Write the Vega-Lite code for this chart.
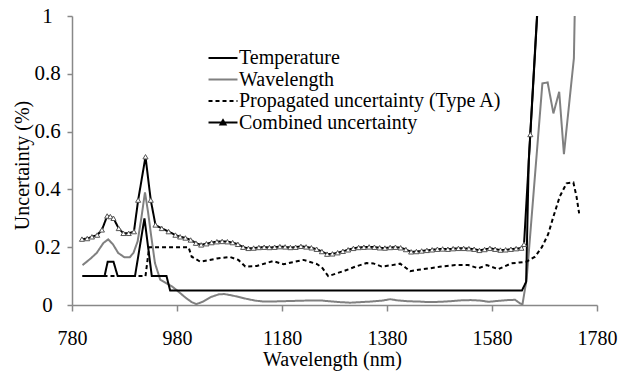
{
  "$schema": "https://vega.github.io/schema/vega-lite/v6.json",
  "width": 525,
  "height": 289,
  "autosize": "none",
  "padding": {"left": 72, "top": 16, "right": 21, "bottom": 68},
  "config": {
    "font": "serif",
    "view": {"stroke": null},
    "axis": {"grid": false, "domainColor": "#888888", "tickColor": "#888888", "domainWidth": 1.5, "tickWidth": 1.5, "labelColor": "#000000", "titleColor": "#000000", "labelFont": "serif", "titleFont": "serif", "titleFontWeight": "normal"},
    "legend": {"labelFont": "serif"}
  },
  "data": {
    "values": [
      {"series": "Wavelength", "wl": 800, "u": 0.138},
      {"series": "Wavelength", "wl": 815, "u": 0.16},
      {"series": "Wavelength", "wl": 827, "u": 0.18},
      {"series": "Wavelength", "wl": 840, "u": 0.215},
      {"series": "Wavelength", "wl": 849, "u": 0.227},
      {"series": "Wavelength", "wl": 858, "u": 0.21},
      {"series": "Wavelength", "wl": 868, "u": 0.18},
      {"series": "Wavelength", "wl": 880, "u": 0.165},
      {"series": "Wavelength", "wl": 890, "u": 0.165},
      {"series": "Wavelength", "wl": 897, "u": 0.18},
      {"series": "Wavelength", "wl": 905, "u": 0.22},
      {"series": "Wavelength", "wl": 912, "u": 0.3},
      {"series": "Wavelength", "wl": 919, "u": 0.39},
      {"series": "Wavelength", "wl": 925, "u": 0.32},
      {"series": "Wavelength", "wl": 930, "u": 0.25},
      {"series": "Wavelength", "wl": 938, "u": 0.145},
      {"series": "Wavelength", "wl": 948, "u": 0.088},
      {"series": "Wavelength", "wl": 960, "u": 0.075},
      {"series": "Wavelength", "wl": 970, "u": 0.065},
      {"series": "Wavelength", "wl": 979, "u": 0.052},
      {"series": "Wavelength", "wl": 990, "u": 0.035},
      {"series": "Wavelength", "wl": 998, "u": 0.023},
      {"series": "Wavelength", "wl": 1008, "u": 0.01},
      {"series": "Wavelength", "wl": 1017, "u": 0.003},
      {"series": "Wavelength", "wl": 1030, "u": 0.012},
      {"series": "Wavelength", "wl": 1045, "u": 0.028},
      {"series": "Wavelength", "wl": 1060, "u": 0.037},
      {"series": "Wavelength", "wl": 1070, "u": 0.038},
      {"series": "Wavelength", "wl": 1085, "u": 0.033},
      {"series": "Wavelength", "wl": 1100, "u": 0.027},
      {"series": "Wavelength", "wl": 1113, "u": 0.021},
      {"series": "Wavelength", "wl": 1130, "u": 0.015},
      {"series": "Wavelength", "wl": 1144, "u": 0.012},
      {"series": "Wavelength", "wl": 1160, "u": 0.012},
      {"series": "Wavelength", "wl": 1180, "u": 0.013},
      {"series": "Wavelength", "wl": 1200, "u": 0.014},
      {"series": "Wavelength", "wl": 1220, "u": 0.015},
      {"series": "Wavelength", "wl": 1240, "u": 0.016},
      {"series": "Wavelength", "wl": 1252, "u": 0.016},
      {"series": "Wavelength", "wl": 1270, "u": 0.013},
      {"series": "Wavelength", "wl": 1290, "u": 0.01},
      {"series": "Wavelength", "wl": 1310, "u": 0.008},
      {"series": "Wavelength", "wl": 1330, "u": 0.01},
      {"series": "Wavelength", "wl": 1350, "u": 0.012},
      {"series": "Wavelength", "wl": 1370, "u": 0.015},
      {"series": "Wavelength", "wl": 1386, "u": 0.02},
      {"series": "Wavelength", "wl": 1400, "u": 0.016},
      {"series": "Wavelength", "wl": 1420, "u": 0.013},
      {"series": "Wavelength", "wl": 1440, "u": 0.012},
      {"series": "Wavelength", "wl": 1460, "u": 0.01},
      {"series": "Wavelength", "wl": 1480, "u": 0.011},
      {"series": "Wavelength", "wl": 1500, "u": 0.013},
      {"series": "Wavelength", "wl": 1520, "u": 0.016},
      {"series": "Wavelength", "wl": 1540, "u": 0.017},
      {"series": "Wavelength", "wl": 1560, "u": 0.015},
      {"series": "Wavelength", "wl": 1573, "u": 0.011},
      {"series": "Wavelength", "wl": 1590, "u": 0.014},
      {"series": "Wavelength", "wl": 1610, "u": 0.017},
      {"series": "Wavelength", "wl": 1624, "u": 0.018},
      {"series": "Wavelength", "wl": 1633, "u": 0.006},
      {"series": "Wavelength", "wl": 1638, "u": 0.002},
      {"series": "Wavelength", "wl": 1646, "u": 0.09},
      {"series": "Wavelength", "wl": 1676, "u": 0.767},
      {"series": "Wavelength", "wl": 1686, "u": 0.77},
      {"series": "Wavelength", "wl": 1697, "u": 0.663},
      {"series": "Wavelength", "wl": 1708, "u": 0.738},
      {"series": "Wavelength", "wl": 1717, "u": 0.522},
      {"series": "Wavelength", "wl": 1736, "u": 0.854},
      {"series": "Wavelength", "wl": 1738, "u": 1.05},
      {"series": "Propagated uncertainty (Type A)", "wl": 800, "u": 0.1},
      {"series": "Propagated uncertainty (Type A)", "wl": 920, "u": 0.1},
      {"series": "Propagated uncertainty (Type A)", "wl": 927, "u": 0.2},
      {"series": "Propagated uncertainty (Type A)", "wl": 1002, "u": 0.2},
      {"series": "Propagated uncertainty (Type A)", "wl": 1008, "u": 0.167},
      {"series": "Propagated uncertainty (Type A)", "wl": 1024, "u": 0.15},
      {"series": "Propagated uncertainty (Type A)", "wl": 1040, "u": 0.155},
      {"series": "Propagated uncertainty (Type A)", "wl": 1056, "u": 0.161},
      {"series": "Propagated uncertainty (Type A)", "wl": 1081, "u": 0.166},
      {"series": "Propagated uncertainty (Type A)", "wl": 1097, "u": 0.156},
      {"series": "Propagated uncertainty (Type A)", "wl": 1110, "u": 0.133},
      {"series": "Propagated uncertainty (Type A)", "wl": 1132, "u": 0.135},
      {"series": "Propagated uncertainty (Type A)", "wl": 1150, "u": 0.145},
      {"series": "Propagated uncertainty (Type A)", "wl": 1163, "u": 0.152},
      {"series": "Propagated uncertainty (Type A)", "wl": 1183, "u": 0.141},
      {"series": "Propagated uncertainty (Type A)", "wl": 1200, "u": 0.148},
      {"series": "Propagated uncertainty (Type A)", "wl": 1221, "u": 0.156},
      {"series": "Propagated uncertainty (Type A)", "wl": 1246, "u": 0.142},
      {"series": "Propagated uncertainty (Type A)", "wl": 1256, "u": 0.13},
      {"series": "Propagated uncertainty (Type A)", "wl": 1262, "u": 0.115},
      {"series": "Propagated uncertainty (Type A)", "wl": 1268, "u": 0.1},
      {"series": "Propagated uncertainty (Type A)", "wl": 1285, "u": 0.11},
      {"series": "Propagated uncertainty (Type A)", "wl": 1303, "u": 0.121},
      {"series": "Propagated uncertainty (Type A)", "wl": 1320, "u": 0.133},
      {"series": "Propagated uncertainty (Type A)", "wl": 1341, "u": 0.145},
      {"series": "Propagated uncertainty (Type A)", "wl": 1354, "u": 0.144},
      {"series": "Propagated uncertainty (Type A)", "wl": 1370, "u": 0.133},
      {"series": "Propagated uncertainty (Type A)", "wl": 1390, "u": 0.138},
      {"series": "Propagated uncertainty (Type A)", "wl": 1405, "u": 0.143},
      {"series": "Propagated uncertainty (Type A)", "wl": 1415, "u": 0.13},
      {"series": "Propagated uncertainty (Type A)", "wl": 1424, "u": 0.117},
      {"series": "Propagated uncertainty (Type A)", "wl": 1440, "u": 0.122},
      {"series": "Propagated uncertainty (Type A)", "wl": 1462, "u": 0.127},
      {"series": "Propagated uncertainty (Type A)", "wl": 1480, "u": 0.132},
      {"series": "Propagated uncertainty (Type A)", "wl": 1494, "u": 0.135},
      {"series": "Propagated uncertainty (Type A)", "wl": 1510, "u": 0.138},
      {"series": "Propagated uncertainty (Type A)", "wl": 1535, "u": 0.138},
      {"series": "Propagated uncertainty (Type A)", "wl": 1554, "u": 0.127},
      {"series": "Propagated uncertainty (Type A)", "wl": 1570, "u": 0.138},
      {"series": "Propagated uncertainty (Type A)", "wl": 1592, "u": 0.124},
      {"series": "Propagated uncertainty (Type A)", "wl": 1617, "u": 0.144},
      {"series": "Propagated uncertainty (Type A)", "wl": 1632, "u": 0.147},
      {"series": "Propagated uncertainty (Type A)", "wl": 1646, "u": 0.15},
      {"series": "Propagated uncertainty (Type A)", "wl": 1662, "u": 0.167},
      {"series": "Propagated uncertainty (Type A)", "wl": 1675, "u": 0.2},
      {"series": "Propagated uncertainty (Type A)", "wl": 1687, "u": 0.245},
      {"series": "Propagated uncertainty (Type A)", "wl": 1697, "u": 0.306},
      {"series": "Propagated uncertainty (Type A)", "wl": 1709, "u": 0.375},
      {"series": "Propagated uncertainty (Type A)", "wl": 1722, "u": 0.421},
      {"series": "Propagated uncertainty (Type A)", "wl": 1735, "u": 0.424},
      {"series": "Propagated uncertainty (Type A)", "wl": 1741, "u": 0.375},
      {"series": "Propagated uncertainty (Type A)", "wl": 1746, "u": 0.317},
      {"series": "Temperature", "wl": 800, "u": 0.1},
      {"series": "Temperature", "wl": 842, "u": 0.1},
      {"series": "Temperature", "wl": 848, "u": 0.15},
      {"series": "Temperature", "wl": 859, "u": 0.15},
      {"series": "Temperature", "wl": 867, "u": 0.1},
      {"series": "Temperature", "wl": 900, "u": 0.1},
      {"series": "Temperature", "wl": 918, "u": 0.3},
      {"series": "Temperature", "wl": 932, "u": 0.1},
      {"series": "Temperature", "wl": 960, "u": 0.1},
      {"series": "Temperature", "wl": 967, "u": 0.05},
      {"series": "Temperature", "wl": 1637, "u": 0.05},
      {"series": "Temperature", "wl": 1645, "u": 0.08},
      {"series": "Temperature", "wl": 1650, "u": 0.5},
      {"series": "Temperature", "wl": 1666, "u": 1.01},
      {"series": "Temperature", "wl": 1675, "u": 1.3},
      {"series": "Combined uncertainty", "wl": 799, "u": 0.228},
      {"series": "Combined uncertainty", "wl": 809, "u": 0.23},
      {"series": "Combined uncertainty", "wl": 818, "u": 0.236},
      {"series": "Combined uncertainty", "wl": 828, "u": 0.242},
      {"series": "Combined uncertainty", "wl": 837, "u": 0.26},
      {"series": "Combined uncertainty", "wl": 847, "u": 0.308},
      {"series": "Combined uncertainty", "wl": 853, "u": 0.306},
      {"series": "Combined uncertainty", "wl": 859, "u": 0.3},
      {"series": "Combined uncertainty", "wl": 869, "u": 0.265},
      {"series": "Combined uncertainty", "wl": 878, "u": 0.248},
      {"series": "Combined uncertainty", "wl": 888, "u": 0.248},
      {"series": "Combined uncertainty", "wl": 898, "u": 0.254},
      {"series": "Combined uncertainty", "wl": 906, "u": 0.363},
      {"series": "Combined uncertainty", "wl": 920, "u": 0.513},
      {"series": "Combined uncertainty", "wl": 930, "u": 0.363},
      {"series": "Combined uncertainty", "wl": 939, "u": 0.277},
      {"series": "Combined uncertainty", "wl": 951, "u": 0.265},
      {"series": "Combined uncertainty", "wl": 964, "u": 0.254},
      {"series": "Combined uncertainty", "wl": 977, "u": 0.242},
      {"series": "Combined uncertainty", "wl": 986, "u": 0.236},
      {"series": "Combined uncertainty", "wl": 996, "u": 0.232},
      {"series": "Combined uncertainty", "wl": 1006, "u": 0.225},
      {"series": "Combined uncertainty", "wl": 1016, "u": 0.214},
      {"series": "Combined uncertainty", "wl": 1026, "u": 0.208},
      {"series": "Combined uncertainty", "wl": 1036, "u": 0.212},
      {"series": "Combined uncertainty", "wl": 1046, "u": 0.216},
      {"series": "Combined uncertainty", "wl": 1056, "u": 0.219},
      {"series": "Combined uncertainty", "wl": 1066, "u": 0.22},
      {"series": "Combined uncertainty", "wl": 1076, "u": 0.219},
      {"series": "Combined uncertainty", "wl": 1086, "u": 0.216},
      {"series": "Combined uncertainty", "wl": 1096, "u": 0.21},
      {"series": "Combined uncertainty", "wl": 1106, "u": 0.2},
      {"series": "Combined uncertainty", "wl": 1116, "u": 0.196},
      {"series": "Combined uncertainty", "wl": 1126, "u": 0.197},
      {"series": "Combined uncertainty", "wl": 1136, "u": 0.199},
      {"series": "Combined uncertainty", "wl": 1146, "u": 0.2},
      {"series": "Combined uncertainty", "wl": 1156, "u": 0.199},
      {"series": "Combined uncertainty", "wl": 1166, "u": 0.2},
      {"series": "Combined uncertainty", "wl": 1176, "u": 0.202},
      {"series": "Combined uncertainty", "wl": 1186, "u": 0.201},
      {"series": "Combined uncertainty", "wl": 1196, "u": 0.199},
      {"series": "Combined uncertainty", "wl": 1206, "u": 0.2},
      {"series": "Combined uncertainty", "wl": 1216, "u": 0.203},
      {"series": "Combined uncertainty", "wl": 1226, "u": 0.201},
      {"series": "Combined uncertainty", "wl": 1236, "u": 0.198},
      {"series": "Combined uncertainty", "wl": 1246, "u": 0.193},
      {"series": "Combined uncertainty", "wl": 1256, "u": 0.185},
      {"series": "Combined uncertainty", "wl": 1266, "u": 0.176},
      {"series": "Combined uncertainty", "wl": 1276, "u": 0.177},
      {"series": "Combined uncertainty", "wl": 1286, "u": 0.181},
      {"series": "Combined uncertainty", "wl": 1296, "u": 0.186},
      {"series": "Combined uncertainty", "wl": 1306, "u": 0.191},
      {"series": "Combined uncertainty", "wl": 1316, "u": 0.196},
      {"series": "Combined uncertainty", "wl": 1326, "u": 0.199},
      {"series": "Combined uncertainty", "wl": 1336, "u": 0.2},
      {"series": "Combined uncertainty", "wl": 1346, "u": 0.201},
      {"series": "Combined uncertainty", "wl": 1356, "u": 0.2},
      {"series": "Combined uncertainty", "wl": 1366, "u": 0.198},
      {"series": "Combined uncertainty", "wl": 1376, "u": 0.197},
      {"series": "Combined uncertainty", "wl": 1386, "u": 0.199},
      {"series": "Combined uncertainty", "wl": 1396, "u": 0.2},
      {"series": "Combined uncertainty", "wl": 1406, "u": 0.198},
      {"series": "Combined uncertainty", "wl": 1416, "u": 0.192},
      {"series": "Combined uncertainty", "wl": 1426, "u": 0.184},
      {"series": "Combined uncertainty", "wl": 1436, "u": 0.185},
      {"series": "Combined uncertainty", "wl": 1446, "u": 0.187},
      {"series": "Combined uncertainty", "wl": 1456, "u": 0.189},
      {"series": "Combined uncertainty", "wl": 1466, "u": 0.191},
      {"series": "Combined uncertainty", "wl": 1476, "u": 0.193},
      {"series": "Combined uncertainty", "wl": 1486, "u": 0.194},
      {"series": "Combined uncertainty", "wl": 1496, "u": 0.193},
      {"series": "Combined uncertainty", "wl": 1506, "u": 0.195},
      {"series": "Combined uncertainty", "wl": 1516, "u": 0.196},
      {"series": "Combined uncertainty", "wl": 1526, "u": 0.196},
      {"series": "Combined uncertainty", "wl": 1536, "u": 0.195},
      {"series": "Combined uncertainty", "wl": 1546, "u": 0.193},
      {"series": "Combined uncertainty", "wl": 1556, "u": 0.189},
      {"series": "Combined uncertainty", "wl": 1566, "u": 0.192},
      {"series": "Combined uncertainty", "wl": 1576, "u": 0.196},
      {"series": "Combined uncertainty", "wl": 1586, "u": 0.193},
      {"series": "Combined uncertainty", "wl": 1596, "u": 0.19},
      {"series": "Combined uncertainty", "wl": 1606, "u": 0.191},
      {"series": "Combined uncertainty", "wl": 1616, "u": 0.193},
      {"series": "Combined uncertainty", "wl": 1626, "u": 0.195},
      {"series": "Combined uncertainty", "wl": 1636, "u": 0.197},
      {"series": "Combined uncertainty", "wl": 1641, "u": 0.21},
      {"series": "Combined uncertainty", "wl": 1653, "u": 0.59},
      {"series": "Combined uncertainty", "wl": 1666, "u": 1.0},
      {"series": "Combined uncertainty", "wl": 1675, "u": 1.3}
    ]
  },
  "encoding": {
    "x": {"field": "wl", "type": "quantitative", "scale": {"domain": [780, 1780], "nice": false, "zero": false},
      "axis": {"values": [780, 980, 1180, 1380, 1580, 1780], "format": "d", "title": "Wavelength (nm)", "labelFont": "serif", "titleFont": "serif", "labelFontSize": 20, "titleFontSize": 20, "tickSize": 6, "labelPadding": 17, "titleX": 260, "titleY": 54, "titleBaseline": "middle", "labelFlush": false,
        "encode": {"labels": {"update": {"font": {"value": "serif"}}}, "title": {"update": {"font": {"value": "serif"}}}}}},
    "y": {"field": "u", "type": "quantitative", "scale": {"domain": [0, 1], "nice": false},
      "axis": {"values": [0, 0.2, 0.4, 0.6, 0.8, 1], "format": "~g", "title": "Uncertainty (%)", "labelFont": "serif", "titleFont": "serif", "labelFontSize": 21, "titleFontSize": 20, "tickSize": 5, "labelAlign": "center", "labelBaseline": "middle", "labelPadding": 20, "titleX": -50, "titleY": 149, "titleBaseline": "middle", "titleAngle": -90,
        "encode": {"labels": {"update": {"font": {"value": "serif"}}}, "title": {"update": {"font": {"value": "serif"}}}}}}
  },
  "layer": [
    {
      "mark": {"type": "line", "strokeWidth": 2, "clip": true},
      "encoding": {
        "color": {"field": "series", "type": "nominal",
          "scale": {"domain": ["Temperature", "Wavelength", "Propagated uncertainty (Type A)", "Combined uncertainty"], "range": ["#000000", "#808080", "#000000", "#000000"]},
          "legend": {"orient": "none", "legendX": 141, "legendY": 32, "title": null, "labelFont": "serif", "labelFontSize": 20, "labelColor": "#000000", "symbolSize": 210, "symbolStrokeWidth": 2, "labelOffset": 6, "rowPadding": 1.5, "padding": 0, "labelLimit": 400,
            "encode": {"symbols": {"update": {"fill": {"value": "#ffffff"}, "shape": {"signal": "datum.value === 'Combined uncertainty' ? 'M-2,0H2M-0.35,0.28L0,-0.32L0.35,0.28Z' : 'M-2,0H2'"}}}}}},
        "strokeDash": {"field": "series", "type": "nominal",
          "scale": {"domain": ["Temperature", "Wavelength", "Propagated uncertainty (Type A)", "Combined uncertainty"], "range": [[1, 0], [1, 0], [4, 3], [1, 0]]}}
      }
    },
    {
      "transform": [{"filter": "datum.series === 'Combined uncertainty' && datum.u < 0.95"}],
      "mark": {"type": "point", "shape": "triangle-up", "size": 26, "filled": true, "fill": "#ffffff", "stroke": "#555555", "strokeWidth": 1, "opacity": 1, "clip": true}
    }
  ]
}
